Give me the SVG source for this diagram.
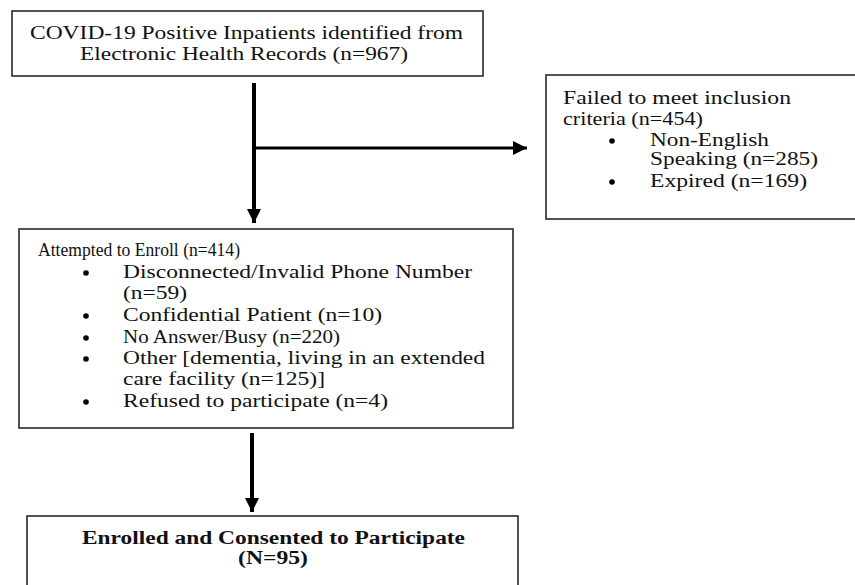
<svg xmlns="http://www.w3.org/2000/svg" width="855" height="585" viewBox="0 0 855 585">
<style>
.box{fill:#fff;stroke:#2a2a2a;stroke-width:1.6}
text{font-family:"Liberation Serif","Times New Roman",serif;font-size:18px;fill:#111}
.b{font-weight:bold}
.c{text-anchor:middle}
.ln{stroke:#000;fill:none}
.dot{fill:#000}
</style>
<defs>
<marker id="ah" markerUnits="userSpaceOnUse" markerWidth="16" markerHeight="16" viewBox="0 0 16 16" refX="14" refY="8" orient="auto">
<path d="M0,1 L14,8 L0,15 Z" fill="#000"/>
</marker>
</defs>
<rect width="855" height="585" fill="#fff"/>
<g id="connectors">
<line class="ln" x1="254" y1="83" x2="254" y2="223" stroke-width="4" marker-end="url(#ah)"/>
<line class="ln" x1="254" y1="148" x2="527" y2="148" stroke-width="3" marker-end="url(#ah)"/>
<line class="ln" x1="252" y1="433" x2="252" y2="512" stroke-width="4" marker-end="url(#ah)"/>
</g>
<g id="node-identified">
<rect class="box" x="12" y="11" width="471" height="65"/>
<text x="30" y="39" textLength="433" lengthAdjust="spacingAndGlyphs">COVID-19 Positive Inpatients identified from</text>
<text x="80" y="60" textLength="328" lengthAdjust="spacingAndGlyphs">Electronic Health Records (n=967)</text>
</g>
<g id="node-excluded">
<rect class="box" x="546" y="75" width="320" height="144"/>
<text x="563" y="104" textLength="228" lengthAdjust="spacingAndGlyphs">Failed to meet inclusion</text>
<text x="563" y="125" textLength="140" lengthAdjust="spacingAndGlyphs">criteria (n=454)</text>
<circle class="dot" cx="612" cy="141" r="2.8"/>
<text x="650" y="146" textLength="119" lengthAdjust="spacingAndGlyphs">Non-English</text>
<text x="650" y="165" textLength="168" lengthAdjust="spacingAndGlyphs">Speaking (n=285)</text>
<circle class="dot" cx="612" cy="182" r="2.8"/>
<text x="650" y="187" textLength="157" lengthAdjust="spacingAndGlyphs">Expired (n=169)</text>
</g>
<g id="node-attempted">
<rect class="box" x="19" y="229" width="494" height="199"/>
<text x="38" y="256" textLength="202" lengthAdjust="spacingAndGlyphs">Attempted to Enroll (n=414)</text>
<circle class="dot" cx="86" cy="273" r="2.8"/>
<text x="123" y="278" textLength="349" lengthAdjust="spacingAndGlyphs">Disconnected/Invalid Phone Number</text>
<text x="123" y="299" textLength="64" lengthAdjust="spacingAndGlyphs">(n=59)</text>
<circle class="dot" cx="86" cy="316" r="2.8"/>
<text x="123" y="321" textLength="259" lengthAdjust="spacingAndGlyphs">Confidential Patient (n=10)</text>
<circle class="dot" cx="86" cy="338" r="2.8"/>
<text x="123" y="343" textLength="217" lengthAdjust="spacingAndGlyphs">No Answer/Busy (n=220)</text>
<circle class="dot" cx="86" cy="359" r="2.8"/>
<text x="123" y="364" textLength="362" lengthAdjust="spacingAndGlyphs">Other [dementia, living in an extended</text>
<text x="123" y="385" textLength="202" lengthAdjust="spacingAndGlyphs">care facility (n=125)]</text>
<circle class="dot" cx="86" cy="402" r="2.8"/>
<text x="123" y="407" textLength="265" lengthAdjust="spacingAndGlyphs">Refused to participate (n=4)</text>
</g>
<g id="node-enrolled">
<rect class="box" x="27" y="516" width="491" height="90"/>
<text class="b" x="82" y="544" textLength="383" lengthAdjust="spacingAndGlyphs">Enrolled and Consented to Participate</text>
<text class="b" x="238" y="564" textLength="70" lengthAdjust="spacingAndGlyphs">(N=95)</text>
</g>
</svg>
